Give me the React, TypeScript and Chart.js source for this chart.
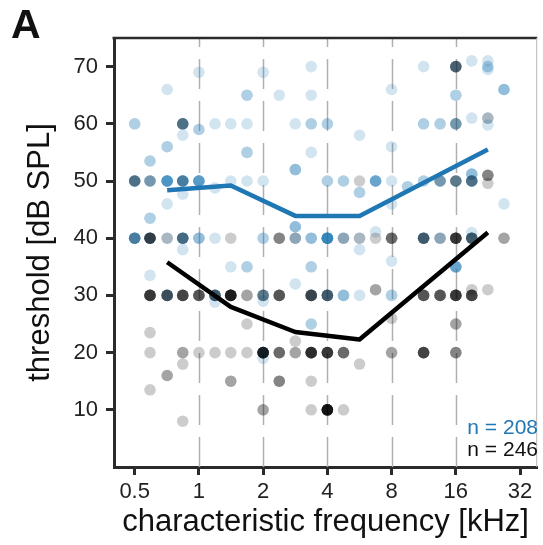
import React, { useEffect, useRef } from "react";
import { Chart, registerables } from "chart.js";

Chart.register(...registerables);

const FONT = "'Liberation Sans', Arial, Helvetica, sans-serif";

// x-axis tick values (kHz) and their labels
const tickFreqs = [0.5, 1, 2, 4, 8, 16, 32];
const tickLabels = ["0.5", "1", "2", "4", "8", "16", "32"];
// y-axis tick values (dB SPL)
const yTicks = [10, 20, 30, 40, 50, 60, 70];
// octave reference lines (kHz)
const gridFreqs = [1, 2, 4, 8, 16];

// individual units: CF (kHz), threshold (dB SPL), number of units of each group at that spot
const dotFreq = [
  1, 2, 3.36, 0.71, 1.68, 2.38, 3.36, 0.5, 0.84, 1, 0.84, 1.19, 1.41, 1.68, 2.83, 3.36,
  0.71, 1.68, 3.36, 0.59, 2.83, 0.5, 0.59, 0.71, 0.84, 1, 1.19, 1.41, 1.68, 2, 0.84, 0.71,
  0.59, 2.83, 0.5, 0.59, 0.71, 0.84, 1, 1.19, 1.41, 2, 2.38, 2.83, 3.36, 0.84,
  11.3, 16, 19, 22.6, 22.6, 22.6, 8, 16, 26.9, 4, 11.3, 13.5, 16, 19, 22.6, 22.6,
  5.66, 8, 4, 4.76, 5.66, 5.66, 6.73, 8, 9.51, 11.3, 13.5, 16, 19, 19, 22.6, 22.6,
  26.9, 8, 4, 4.76, 5.66, 5.66, 6.73, 6.73, 8, 8, 11.3, 13.5, 16, 19, 19, 26.9,
  0.59, 1.41, 1.68, 2.83, 3.36, 0.59, 0.71, 0.84, 1, 1.19, 1.19, 1.41, 1.68, 2, 2, 2.38,
  3.36, 0.59, 1.68, 3.36, 2.83, 0.59, 0.84, 1, 1.19, 1.41, 1.68, 2, 2, 2.38, 2.83, 3.36,
  0.84, 0.71, 0.59, 1.41, 2.38, 3.36, 2, 3.36, 0.84,
  16, 4, 4.76, 5.66, 6.73, 8, 11.3, 13.5, 16, 19, 19, 22.6, 8, 16, 4, 4.76,
  5.66, 8, 11.3, 16, 4, 4.76,
];
const dotThr = [
  69, 69, 70, 66, 65, 65, 65, 60, 60, 59, 58, 60, 60, 60, 60, 60,
  56, 55, 55, 53.5, 52, 50, 50, 50, 50, 50, 48.8, 50, 50, 50, 47.7, 46,
  43.5, 42, 40, 40, 40, 40, 40, 40, 40, 40, 40, 40, 40, 38,
  70, 70, 71, 71, 70, 69.5, 66, 65, 66, 60, 60, 60, 60, 61, 61, 59.8,
  58, 56, 50, 50, 50, 48, 50, 50, 49, 50, 50, 50, 50, 51.2, 51, 49.6,
  46, 46, 40, 40, 40, 38, 41.1, 40, 40, 36, 40, 40, 40, 41, 40, 40,
  33.5, 35, 35, 32, 35, 30, 30, 30, 30, 30, 28.8, 30, 30, 30, 29, 30,
  30, 23.5, 25, 25, 22, 20, 20, 20, 20, 20, 20, 20, 19, 20, 20, 20,
  18, 16, 13.5, 15, 15, 15, 10, 10, 8,
  35, 30, 30, 30, 31, 30, 30, 30, 30, 30, 31, 31, 26, 25, 20, 20,
  18, 20, 20, 20, 10, 10,
];
const blueN = [
  1, 1, 1, 1, 2, 1, 1, 2, 4, 2, 1, 1, 1, 1, 1, 2,
  2, 2, 1, 2, 3, 4, 3, 7, 6, 6, 1, 1, 1, 1, 1, 1,
  2, 3, 6, 3, 1, 5, 3, 1, 0, 2, 0, 2, 3, 1,
  1, 3, 1, 1, 2, 1, 1, 2, 3, 2, 2, 2, 3, 1, 1, 1,
  1, 1, 2, 2, 0, 2, 5, 1, 2, 2, 3, 3, 4, 3, 0, 0,
  1, 1, 10, 2, 1, 1, 1, 0, 0, 1, 4, 2, 0, 1, 4, 0,
  1, 1, 2, 1, 2, 0, 3, 0, 0, 4, 1, 0, 0, 3, 1, 0,
  2, 0, 0, 2, 0, 0, 0, 0, 0, 0, 0, 4, 1, 0, 0, 0,
  0, 0, 0, 0, 0, 0, 0, 0, 0,
  5, 4, 3, 1, 0, 2, 0, 0, 0, 0, 0, 0, 0, 0, 0, 0,
  0, 0, 0, 0, 0, 0,
];
const blackN = [
  0, 0, 0, 0, 0, 0, 0, 0, 2, 0, 0, 0, 0, 0, 0, 0,
  0, 0, 0, 0, 0, 2, 1, 0, 1, 0, 0, 0, 0, 0, 0, 0,
  0, 0, 1, 5, 1, 2, 0, 0, 1, 0, 3, 1, 0, 0,
  0, 3, 0, 0, 0, 0, 0, 0, 0, 0, 0, 0, 1, 0, 1, 0,
  0, 0, 0, 0, 1, 0, 0, 0, 0, 0, 1, 2, 2, 0, 3, 1,
  0, 0, 0, 1, 1, 0, 0, 1, 4, 0, 3, 1, 7, 0, 3, 2,
  0, 0, 0, 0, 0, 7, 4, 6, 5, 3, 0, 10, 2, 2, 0, 5,
  5, 1, 1, 0, 1, 1, 2, 1, 1, 1, 1, 8, 0, 4, 2, 8,
  1, 2, 1, 2, 3, 1, 2, 1, 1,
  0, 3, 0, 0, 2, 0, 5, 5, 7, 6, 1, 1, 1, 2, 7, 4,
  1, 2, 6, 3, 12, 1,
];

// median thresholds per CF bin
const lineFreq = [0.71, 1.41, 2.83, 5.66, 22.6];
const blueLineThr = [48.4, 49.2, 43.9, 43.9, 55.5];
const blackLineThr = [35.8, 28, 23.6, 22.3, 41];

const nBlue = "n = 208";
const nBlack = "n = 246";

function expand(counts: number[]) {
  const pts: { x: number; y: number }[] = [];
  counts.forEach((c, i) => {
    for (let k = 0; k < c; k++) pts.push({ x: dotFreq[i], y: dotThr[i] });
  });
  return pts;
}

const decorPlugin = {
  id: "decor",
  beforeDatasetsDraw(chart: any) {
    const { ctx, chartArea, scales } = chart;
    ctx.save();
    ctx.strokeStyle = "#b0b0b0";
    ctx.lineWidth = 1.5;
    ctx.setLineDash([30, 12]);
    gridFreqs.forEach((f) => {
      const x = Math.round(scales.x.getPixelForValue(f)) + 0.5;
      ctx.beginPath();
      ctx.moveTo(x, chartArea.bottom);
      ctx.lineTo(x, chartArea.top);
      ctx.stroke();
    });
    ctx.restore();
  },
  afterDraw(chart: any) {
    const { ctx, chartArea } = chart;
    ctx.save();
    // top frame
    ctx.strokeStyle = "#2b2b2b";
    ctx.lineWidth = 2.5;
    ctx.beginPath();
    ctx.moveTo(chartArea.left - 1.5, chartArea.top);
    ctx.lineTo(chartArea.right, chartArea.top);
    ctx.stroke();
    // right frame
    ctx.strokeStyle = "#b8b8b8";
    ctx.lineWidth = 1;
    ctx.beginPath();
    ctx.moveTo(chartArea.right - 0.5, chartArea.top);
    ctx.lineTo(chartArea.right - 0.5, chartArea.bottom);
    ctx.stroke();
    // panel letter
    ctx.fillStyle = "#111";
    ctx.font = `bold 41px ${FONT}`;
    ctx.textAlign = "left";
    ctx.textBaseline = "alphabetic";
    ctx.fillText("A", 11, 38);
    // n labels
    ctx.font = `21px ${FONT}`;
    ctx.textAlign = "right";
    ctx.fillStyle = "#1f77b4";
    ctx.fillText(nBlue, 538, 433.5);
    ctx.fillStyle = "#111";
    ctx.fillText(nBlack, 538, 456);
    ctx.restore();
  },
};

export default function App() {
  const ref = useRef<HTMLCanvasElement>(null);

  useEffect(() => {
    const canvas = ref.current;
    if (!canvas) return;
    const axisGrid = {
      drawOnChartArea: false,
      drawTicks: true,
      tickLength: 8,
      tickWidth: 3,
      tickColor: "#2b2b2b",
      color: "#2b2b2b",
    };
    const chart = new Chart(canvas, {
      type: "scatter",
      data: {
        datasets: [
          {
            type: "line",
            label: "blue median",
            data: lineFreq.map((x, i) => ({ x, y: blueLineThr[i] })),
            borderColor: "#1f77b4",
            borderWidth: 4.5,
            pointRadius: 0,
            fill: false,
            tension: 0,
            borderJoinStyle: "round",
            order: 0,
          } as any,
          {
            type: "line",
            label: "black median",
            data: lineFreq.map((x, i) => ({ x, y: blackLineThr[i] })),
            borderColor: "#000000",
            borderWidth: 4.5,
            pointRadius: 0,
            fill: false,
            tension: 0,
            borderJoinStyle: "round",
            order: 1,
          } as any,
          {
            label: "black units",
            data: expand(blackN),
            backgroundColor: "rgba(0,0,0,0.2)",
            borderWidth: 0,
            pointRadius: 5.8,
            pointHoverRadius: 5.8,
            order: 2,
          },
          {
            label: "blue units",
            data: expand(blueN),
            backgroundColor: "rgba(31,119,180,0.2)",
            borderWidth: 0,
            pointRadius: 5.8,
            pointHoverRadius: 5.8,
            order: 3,
          },
        ],
      },
      options: {
        responsive: false,
        animation: false,
        devicePixelRatio: 1,
        layout: { padding: { top: 38, right: 2, left: 0, bottom: 0 } },
        plugins: {
          legend: { display: false },
          tooltip: { enabled: false },
        },
        scales: {
          x: {
            type: "logarithmic",
            min: 0.4,
            max: 38.5,
            afterBuildTicks: (s: any) => {
              s.ticks = tickFreqs.map((v) => ({ value: v }));
            },
            afterFit: (s: any) => {
              s.height = 78;
            },
            ticks: {
              autoSkip: false,
              maxRotation: 0,
              padding: 4,
              color: "#222",
              font: { family: FONT, size: 22 },
              callback: (_v: any, i: number) => tickLabels[i],
            },
            grid: axisGrid,
            border: { display: true, color: "#2b2b2b", width: 3 },
            title: {
              display: true,
              text: "characteristic frequency [kHz]",
              color: "#111",
              font: { family: FONT, size: 31 },
              padding: { top: 0, bottom: 4 },
            },
          },
          y: {
            type: "linear",
            min: 0,
            max: 75,
            afterBuildTicks: (s: any) => {
              s.ticks = yTicks.map((v) => ({ value: v }));
            },
            afterFit: (s: any) => {
              s.width = 114;
            },
            ticks: {
              autoSkip: false,
              padding: 8,
              color: "#222",
              font: { family: FONT, size: 22 },
              callback: (v: any) => String(v),
            },
            grid: axisGrid,
            border: { display: true, color: "#2b2b2b", width: 3 },
            title: {
              display: true,
              text: "threshold [dB SPL]",
              color: "#111",
              font: { family: FONT, size: 31 },
              padding: { top: 22, bottom: 0 },
            },
          },
        },
      },
      plugins: [decorPlugin],
    });
    return () => chart.destroy();
  }, []);

  return (
    <div style={{ position: "absolute", left: 0, top: 0, width: 543, height: 545, background: "#fff" }}>
      <canvas ref={ref} width={543} height={545} style={{ display: "block", width: 543, height: 545 }} />
    </div>
  );
}
